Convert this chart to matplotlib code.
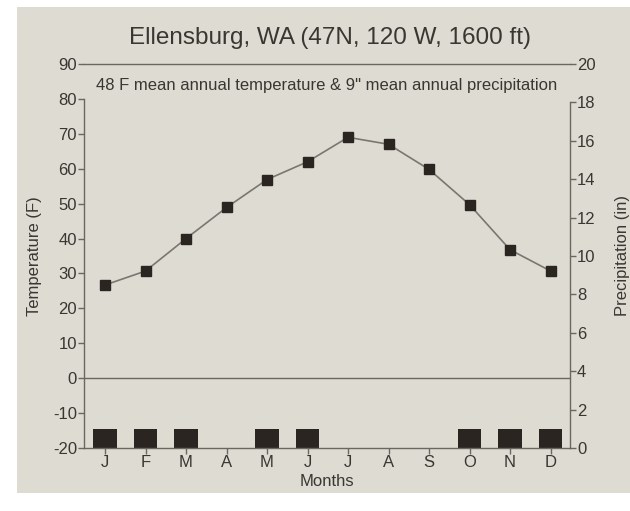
import matplotlib
matplotlib.use('Agg')
import matplotlib.pyplot as plt
from matplotlib.patches import Rectangle

plt.rcParams['font.family'] = ['Liberation Sans', 'DejaVu Sans']
plt.rcParams['axes.unicode_minus'] = False

# climate data
months = ['J', 'F', 'M', 'A', 'M', 'J', 'J', 'A', 'S', 'O', 'N', 'D']
temp_f = [26.7, 30.7, 40, 48.9, 56.9, 62, 69, 67, 59.8, 49.7, 36.8, 30.7]
precip_in = [1.0, 1.0, 1.0, 0, 1.0, 1.0, 0, 0, 0, 1.0, 1.0, 1.0]

paper = '#dedbd3'
ink = '#3a3632'
box = '#2b2521'

fig = plt.figure(figsize=(6.3, 5.11), dpi=100)
fig.patch.set_facecolor('white')
fig.patches.append(Rectangle((17 / 630, 1 - 493 / 511), 613 / 630, 486 / 511,
                             transform=fig.transFigure, facecolor=paper,
                             edgecolor='none', zorder=-5))

ax = fig.add_axes([84 / 630, 1 - 448 / 511, 486 / 630, 384 / 511])
x = list(range(1, 13))

ax2 = ax.twinx()
ax2.bar(x, precip_in, width=0.58, color=box, zorder=2)
ax2.set_ylim(0, 20)
ax2.set_yticks(range(0, 21, 2))
ax2.set_ylabel('Precipitation (in)', fontsize=12, color=ink, labelpad=14)

ax.set_zorder(ax2.get_zorder() + 1)
ax.patch.set_visible(False)
ax2.patch.set_visible(False)
ax.plot(x, temp_f, color='#7a7670', lw=1.2, marker='s', ms=7,
        mfc=box, mec=box, zorder=3)
ax.axhline(0, color='#6a6660', lw=1)
ax.set_ylim(-20, 90)
ax.set_xlim(0.48, 12.48)
ax.set_yticks(range(-20, 91, 10))
ax.set_xticks(x)
ax.set_xticklabels(months)
ax.set_xlabel('Months', fontsize=12, color=ink, labelpad=3)
ax.set_ylabel('Temperature (F)', fontsize=12, color=ink, labelpad=8)

for a in (ax, ax2):
    for s in a.spines.values():
        s.set_color('#6a6660')
        s.set_linewidth(1)
    a.tick_params(colors='#6a6660', labelcolor=ink, labelsize=12, length=4, width=1, pad=1)
ax.spines['left'].set_bounds(-20, 80)
ax2.spines['right'].set_bounds(0, 18)
ax2.spines['left'].set_visible(False)
ax2.spines['top'].set_visible(False)
ax2.spines['bottom'].set_visible(False)
ax.spines['right'].set_visible(False)

ax.text(0.5, 0.945, '48 F mean annual temperature & 9" mean annual precipitation',
        transform=ax.transAxes, ha='center', va='center', fontsize=12, color=ink)
fig.text(330 / 630, 1 - 38 / 511, 'Ellensburg, WA (47N, 120 W, 1600 ft)',
         ha='center', va='center', fontsize=17.5, color=ink)

fig.savefig('out.png', dpi=100, facecolor=fig.get_facecolor())
